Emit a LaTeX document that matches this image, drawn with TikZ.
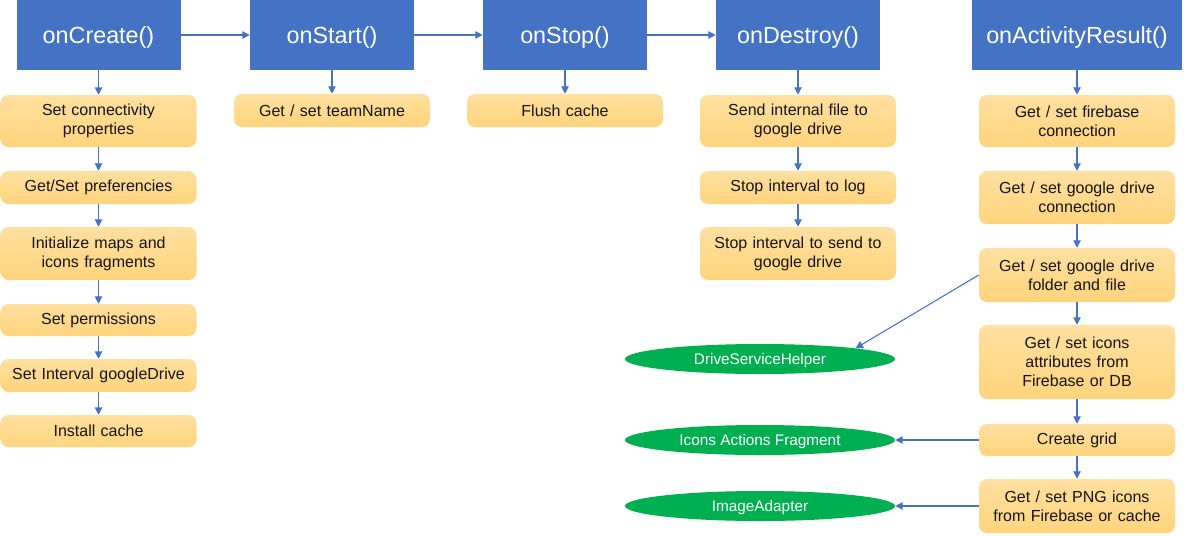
\documentclass[tikz,border=0pt]{standalone}
\usepackage{fontspec}
\setmainfont{Liberation Sans}
\usetikzlibrary{arrows.meta,shapes.geometric}
\definecolor{bluebox}{HTML}{4472C4}
\definecolor{greenov}{HTML}{00B050}
\definecolor{ytop}{HTML}{FFE0A0}
\definecolor{ybot}{HTML}{FFD47C}
\definecolor{txt}{HTML}{141414}
\tikzset{
  title/.style={fill=bluebox, draw=none, text=white, font=\fontsize{17.5}{20}\selectfont,
    minimum height=52.5pt, minimum width=123pt, inner sep=0pt, text height=1.35em, text depth=0.1em},
  ybox/.style={rounded corners=6pt, top color=ytop, bottom color=ybot, draw=none,
    text=txt, font=\fontsize{12}{14.3}\selectfont, align=center,
    minimum width=147pt, text width=140pt, inner sep=0pt},
  oval/.style={ellipse, fill=greenov, draw=none, text=white,
    font=\fontsize{11.5}{13}\selectfont, minimum width=202.5pt, minimum height=22.5pt, inner sep=0pt,
    text height=0.95em, text depth=0.1em},
  conn/.style={draw=bluebox, line width=0.8pt, -{Triangle[length=5.5pt,width=5.5pt]}},
}
\begin{document}
\begin{tikzpicture}[x=0.75pt,y=-0.75pt]
\useasboundingbox (0,0) rectangle (1187,535);
% title boxes
\node[title] (cre) at (98.5,35) {onCreate()};
\node[title] (sta) at (332,35) {onStart()};
\node[title] (sto) at (565,35) {onStop()};
\node[title] (des) at (798,35) {onDestroy()};
\node[title, minimum width=157.5pt] (act) at (1077,35) {onActivityResult()};
% onCreate column
\node[ybox, minimum height=39pt] (c1) at (98.5,121) {Set connectivity\\properties};
\node[ybox, minimum height=24.75pt] (c2) at (98.5,187.5) {Get/Set preferencies};
\node[ybox, minimum height=39.75pt] (c3) at (98.5,253.5) {Initialize maps and\\icons fragments};
\node[ybox, minimum height=24pt] (c4) at (98.5,320) {Set permissions};
\node[ybox, minimum height=24.75pt] (c5) at (98.5,375.5) {Set Interval googleDrive};
\node[ybox, minimum height=24pt] (c6) at (98.5,431) {Install cache};
% onStart / onStop
\node[ybox, minimum height=24.75pt] (s1) at (332,110.5) {Get / set teamName};
\node[ybox, minimum height=24.75pt] (t1) at (565,110.5) {Flush cache};
% onDestroy column
\node[ybox, minimum height=39pt] (d1) at (798,121) {Send internal file to\\google drive};
\node[ybox, minimum height=24.75pt] (d2) at (798,187.5) {Stop interval to log};
\node[ybox, minimum height=39.75pt] (d3) at (798,253.5) {Stop interval to send to\\google drive};
% onActivityResult column
\node[ybox, minimum height=39pt] (a1) at (1077,121) {Get / set firebase\\connection};
\node[ybox, minimum height=39.75pt] (a2) at (1077,197.5) {Get / set google drive\\connection};
\node[ybox, minimum height=40.5pt] (a3) at (1077,275) {Get / set google drive\\folder and file};
\node[ybox, minimum height=55.5pt] (a4) at (1077,362) {Get / set icons\\attributes from\\Firebase or DB};
\node[ybox, minimum height=24pt] (a5) at (1077,440) {Create grid};
\node[ybox, minimum height=40.5pt] (a6) at (1077,506) {Get / set PNG icons\\from Firebase or cache};
% ovals
\node[oval] (dsh) at (760,359) {DriveServiceHelper};
\node[oval] (iaf) at (760,440) {Icons Actions Fragment};
\node[oval] (ima) at (760,506) {ImageAdapter};
% connectors
\draw[conn] (cre) -- (sta);
\draw[conn] (sta) -- (sto);
\draw[conn] (sto) -- (des);
\draw[conn] (cre) -- (c1);
\draw[conn] (c1) -- (c2);
\draw[conn] (c2) -- (c3);
\draw[conn] (c3) -- (c4);
\draw[conn] (c4) -- (c5);
\draw[conn] (c5) -- (c6);
\draw[conn] (sta) -- (s1);
\draw[conn] (sto) -- (t1);
\draw[conn] (des) -- (d1);
\draw[conn] (d1) -- (d2);
\draw[conn] (d2) -- (d3);
\draw[conn] (act) -- (a1);
\draw[conn] (a1) -- (a2);
\draw[conn] (a2) -- (a3);
\draw[conn] (a3) -- (a4);
\draw[conn] (a4) -- (a5);
\draw[conn] (a5) -- (a6);
\draw[conn] (a3.west) -- (dsh.north east);
\draw[conn] (a5) -- (iaf);
\draw[conn] (a6) -- (ima);
\end{tikzpicture}
\end{document}
